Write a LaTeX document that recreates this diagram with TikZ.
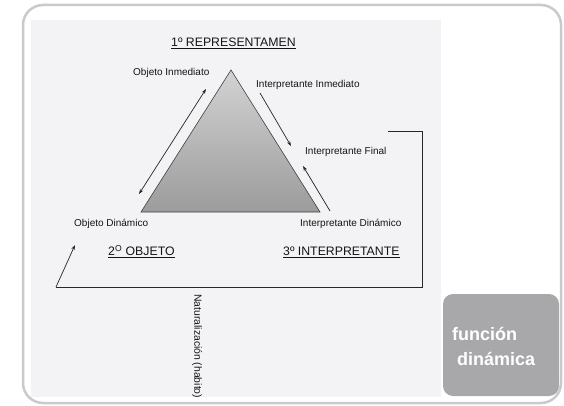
\documentclass[tikz,border=0pt]{standalone}
\usepackage{fontspec}
\setmainfont{Liberation Sans}
\usepackage{xcolor}
\usetikzlibrary{arrows.meta}
\definecolor{pagegray}{RGB}{243,243,245}
\definecolor{framegray}{RGB}{202,202,204}
\definecolor{tabgray}{RGB}{168,168,170}
\begin{document}
\begin{tikzpicture}[x=1pt,y=-1pt,
   lbl/.style={font=\fontsize{10}{12}\selectfont,inner sep=0pt,anchor=west,text=black!92},
   cat/.style={font=\fontsize{12.3}{14}\selectfont,inner sep=0pt,anchor=base west,text=black!92},
   arr/.style={draw=black!85,line width=0.7pt,-{Stealth[length=5pt,width=3.5pt]}},
   dblarr/.style={arr,{Stealth[length=5pt,width=3.5pt]}-{Stealth[length=5pt,width=3.5pt]}}]
  \useasboundingbox (0,0) rectangle (564,406);
  % scanned page and side tab
  \fill[pagegray] (31,20) rectangle (441,397);
  \fill[tabgray,rounded corners=10pt] (443,294) rectangle (559,396);
  \node[anchor=north west,inner sep=0pt,align=left,text=white,
    font=\fontsize{18}{25}\selectfont\bfseries] (tab) at (452,327)
    {función\\\hspace*{5pt}dinámica};
  \draw[framegray,line width=2.5pt,rounded corners=20pt] (23,5) rectangle (561,403);
  % triangle
  \coordinate (apex) at (231,70);
  \coordinate (bl) at (141,212);
  \coordinate (br) at (320,212);
  \shadedraw[top color=gray!35,bottom color=gray!78,draw=black!75,line width=0.6pt]
    (apex) -- (bl) -- (br) -- cycle;
  % labels
  \node[cat] (rep) at (171,46.5) {\underline{1º REPRESENTAMEN}};
  \node[lbl] (oi) at (133,73) {Objeto Inmediato};
  \node[lbl] (ii) at (256,85) {Interpretante Inmediato};
  \node[lbl] (if) at (305,152) {Interpretante Final};
  \node[lbl] (od) at (74,224) {Objeto Dinámico};
  \node[lbl] (id) at (300,224) {Interpretante Dinámico};
  \node[cat] (obj) at (108,255.5) {\underline{2\textsuperscript{O} OBJETO}};
  \node[cat] (int) at (283,255.5) {\underline{3º INTERPRETANTE}};
  \node[font=\fontsize{10.4}{12}\selectfont,inner sep=0pt,anchor=west,rotate=-90,
    text=black!92] (nat) at (197,294) {Naturalización (habito)};
  % arrows along the sides
  \coordinate (l1) at (139,194); \coordinate (l2) at (206,89);
  \draw[dblarr] (l1) -- (l2);
  \coordinate (r1) at (260,93); \coordinate (r2) at (291,146);
  \draw[arr] (r1) -- (r2);
  \coordinate (r3) at (330,211); \coordinate (r4) at (303,166);
  \draw[arr] (r3) -- (r4);
  % feedback bracket
  \coordinate (b1) at (56,287); \coordinate (b2) at (422,287);
  \coordinate (b3) at (422,131); \coordinate (b4) at (388,131);
  \coordinate (tip) at (75,245);
  \draw[arr] (b1) -- (tip);
  \draw[black!85,line width=0.7pt] (b1) -- (b2) -- (b3) -- (b4);
\end{tikzpicture}
\end{document}
